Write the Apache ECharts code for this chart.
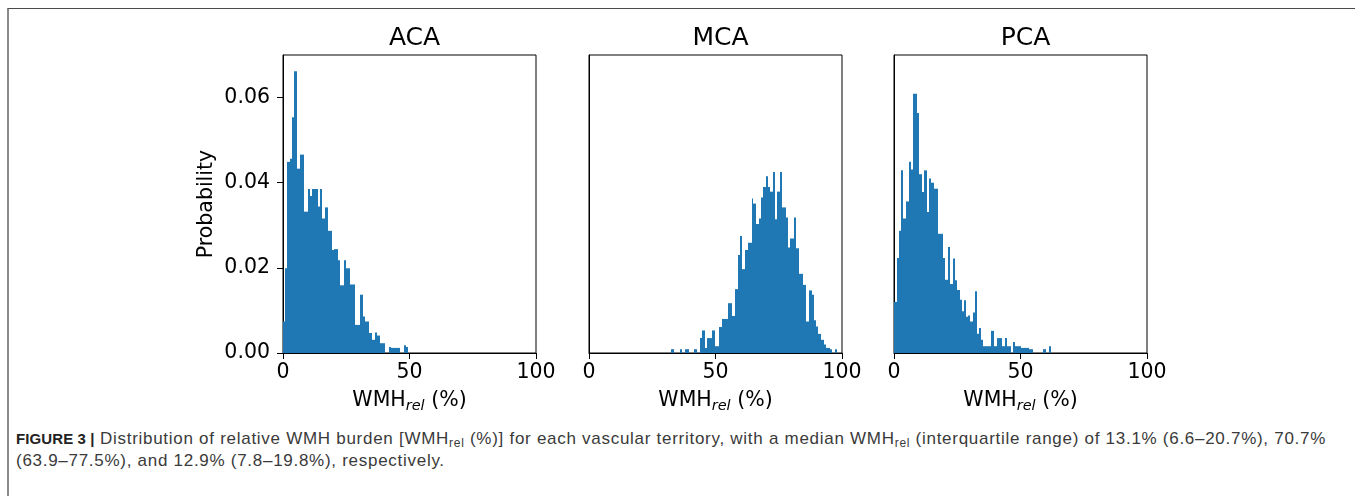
<!DOCTYPE html>
<html>
<head>
<meta charset="utf-8">
<script src="https://cdn.jsdelivr.net/npm/echarts@6/dist/echarts.min.js"></script>
<style>
  html, body { margin: 0; padding: 0; background: #fff; }
  #wrap { position: relative; width: 1355px; height: 496px; overflow: hidden; }
  #frame { position: absolute; left: 7px; top: 8px; right: 0; bottom: 0;
           border-top: 1px solid #4a4a4a; border-left: 2px solid #8a8a8a; }
  #chart { position: absolute; left: 0; top: 0; width: 1355px; height: 420px; }
  #caption { position: absolute; left: 16px; top: 428px; width: 1335px;
             font-family: "Liberation Sans", Arial, sans-serif; font-size: 17px; letter-spacing: 0.72px;
             line-height: 22px; color: #3a3a3a; white-space: nowrap; }
  #caption b { color: #222; font-size: 15px; letter-spacing: 0.1px; }
  #caption sub { font-size: 12px; vertical-align: -3px; line-height: 0; }
</style>
</head>
<body>
<div id="wrap">
  <div id="frame"></div>
  <div id="chart"></div>
  <div id="caption">
    <b>FIGURE 3 |</b> Distribution of relative WMH burden [WMH<sub>rel</sub> (%)] for each vascular territory, with a median WMH<sub>rel</sub> (interquartile range) of 13.1% (6.6–20.7%), 70.7%<br>
    (63.9–77.5%), and 12.9% (7.8–19.8%), respectively.
  </div>
</div>
<script>
// panel titles
const panels = ['ACA', 'MCA', 'PCA'];

// histogram bin edges (WMH_rel %) and probability density per bin
const acaEdges = [0, 0.6, 1.59, 2.64, 3.43, 4.48, 5.54, 6.59, 8.44, 10.0, 10.8, 11.6, 14.0, 14.8, 15.6, 16.6, 17.9, 19.5, 20.3, 21.9,
  22.7, 24.0, 25.0, 26.4, 28.5, 30.6, 31.6, 32.4, 34.0, 35.1, 36.2, 37.2, 38.3, 40.3, 41.7, 42.5, 46.2, 47.9, 48.7, 49.5];
const acaProb = [0.0074, 0.0199, 0.0449, 0.0456, 0.0554, 0.0662, 0.0433, 0.0466, 0.0332, 0.0385, 0.0369, 0.0385, 0.0344, 0.0385, 0.0316,
  0.0342, 0.0287, 0.0242, 0.0244, 0.0218, 0.0159, 0.0218, 0.0199, 0.0161, 0.0066, 0.0137, 0.0086, 0.0074, 0.0047, 0.0031,
  0.0048, 0.0041, 0.0023, 0, 0.0014, 0.0012, 0, 0.0018, 0.0014];

const mcaEdges = [32.5, 33.7, 35.8, 36.8, 37.9, 39.5, 41.6, 42.6, 43.7, 44.7, 45.8, 46.6, 48.7, 49.7, 51.3, 52.4, 54.8, 56.6, 57.7, 58.7,
  59.8, 60.6, 61.6, 62.7, 64.3, 65.0, 66.1, 67.2, 67.9, 68.7, 69.8, 70.6, 71.6, 72.7, 73.5, 74.3, 75.6, 76.4, 77.7, 78.5,
  79.5, 80.9, 81.7, 83.0, 84.6, 85.9, 87.0, 88.0, 88.8, 89.6, 90.6, 91.7, 92.7, 93.8, 95.1, 96.2, 97.2, 98.0];
const mcaProb = [0.0009, 0, 0.0009, 0, 0.0009, 0, 0.0009, 0, 0.0035, 0.0053, 0.0012, 0.0035, 0.0053, 0.0016, 0.0061, 0.0080, 0.0117,
  0.0087, 0.0150, 0.0230, 0.0275, 0.0197, 0.0242, 0.0259, 0.0363, 0.0351, 0.0303, 0.0316, 0.0365, 0.0390, 0.0415, 0.0390,
  0.0379, 0.0425, 0.0314, 0.0379, 0.0425, 0.0342, 0.0318, 0.0248, 0.0269, 0.0318, 0.0246, 0.0186, 0.0160, 0.0074, 0.0147,
  0.0137, 0.0077, 0.0062, 0.0045, 0.0031, 0.0020, 0.0012, 0.0009, 0, 0.0009];

const pcaEdges = [0, 1.0, 1.85, 2.9, 3.7, 4.75, 5.8, 6.6, 7.6, 9.0, 10.0, 11.2, 12.0, 13.0, 13.8, 14.8, 16.0, 17.2, 19.2, 20.3,
  21.2, 22.1, 23.2, 24.0, 24.9, 25.9, 26.7, 27.5, 28.5, 29.2, 30.2, 31.2, 31.9, 32.7, 33.5, 34.3, 35.3, 38.5, 39.5, 40.6,
  42.7, 43.7, 44.5, 46.1, 46.9, 48.0, 50.1, 53.5, 54.8, 59.0, 60.1, 61.1, 62.2];
const pcaProb = [0.0120, 0.0223, 0.0287, 0.0429, 0.0316, 0.0356, 0.0449, 0.0431, 0.0609, 0.0564, 0.0420, 0.0378, 0.0429, 0.0331,
  0.0410, 0.0400, 0.0386, 0.0280, 0.0223, 0.0172, 0.0249, 0.0162, 0.0222, 0.0171, 0.0148, 0.0125, 0.0098, 0.0124, 0.0085,
  0.0088, 0.0074, 0.0095, 0.0145, 0.0045, 0.0059, 0.0031, 0.0016, 0.0052, 0.0016, 0.0035, 0.0016, 0.0035, 0.0016, 0,
  0.0026, 0.0016, 0.0012, 0.0009, 0, 0.0009, 0, 0.0016];

const xTicks = [0, 50, 100];
const yTicks = [0, 0.02, 0.04, 0.06];

const hist = [[acaEdges, acaProb], [mcaEdges, mcaProb], [pcaEdges, pcaProb]];
const gridLeft = [283, 589, 894];
const FONT = 'DejaVu Sans';
const BAR = '#1f77b4';

// one rect per bin, snapped to whole pixels so neighbouring bins don't leave seams
function renderBin(params, api) {
  const y = api.value(2);
  if (!y) return null;
  const p0 = api.coord([api.value(0), y]);
  const p1 = api.coord([api.value(1), 0]);
  const x0 = Math.round(p0[0]), x1 = Math.round(p1[0]);
  return {
    type: 'rect',
    shape: { x: x0, y: p0[1], width: Math.max(1, x1 - x0), height: p1[1] - p0[1] },
    style: { fill: BAR }
  };
}

const chart = echarts.init(document.getElementById('chart'), null, { renderer: 'canvas' });

const option = {
  animation: false,
  title: panels.map((t, i) => ({
    text: t, left: gridLeft[i] + 126.5, top: 21, textAlign: 'center',
    textStyle: { fontFamily: FONT, fontSize: 25, fontWeight: 'normal', color: '#000' }
  })),
  grid: panels.map((t, i) => ({
    left: gridLeft[i], top: 55, width: 253, height: 298,
    show: true, borderColor: '#000', borderWidth: 1, containLabel: false, outerBoundsMode: 'none'
  })),
  xAxis: panels.map((t, i) => ({
    type: 'value', gridIndex: i, min: 0, max: 100, interval: 50,
    name: '{n|WMH}{s|rel}{n| (%)}', nameLocation: 'middle', nameGap: 35,
    nameTextStyle: {
      rich: {
        n: { fontFamily: FONT, fontSize: 20.5, color: '#000', lineHeight: 26, verticalAlign: 'middle' },
        s: { fontFamily: FONT, fontSize: 14.5, fontStyle: 'italic', color: '#000', lineHeight: 13, verticalAlign: 'bottom' }
      }
    },
    axisLine: { show: true, lineStyle: { color: '#000', width: 1 } },
    axisTick: { show: true, length: 6, inside: false, lineStyle: { color: '#000', width: 1 } },
    axisLabel: { fontFamily: FONT, fontSize: 20.5, color: '#000', margin: 9 },
    splitLine: { show: false }
  })),
  yAxis: panels.map((t, i) => ({
    type: 'value', gridIndex: i, min: 0, max: 0.07, interval: 0.02,
    name: i === 0 ? 'Probability' : '', nameLocation: 'middle', nameGap: 66, nameRotate: 90,
    nameTextStyle: { fontFamily: FONT, fontSize: 20.5, color: '#000' },
    axisLine: { show: true, lineStyle: { color: '#000', width: 1 } },
    axisTick: { show: i === 0, length: 6, inside: false, customValues: yTicks, lineStyle: { color: '#000', width: 1 } },
    axisLabel: {
      show: i === 0, customValues: yTicks, fontFamily: FONT, fontSize: 20.5, color: '#000', margin: 13,
      formatter: v => v.toFixed(2)
    },
    splitLine: { show: false }
  })),
  series: hist.map((h, i) => ({
    type: 'custom', xAxisIndex: i, yAxisIndex: i, clip: true, silent: true,
    renderItem: renderBin,
    encode: { x: [0, 1], y: 2 },
    data: h[1].map((p, k) => [h[0][k], h[0][k + 1], p])
  }))
};
chart.setOption(option);
</script>
</body>
</html>
